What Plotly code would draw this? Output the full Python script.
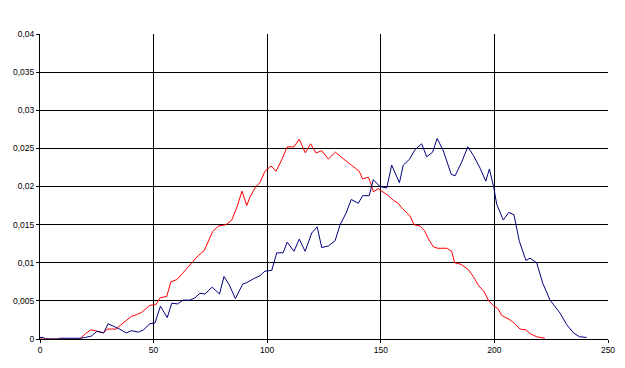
import plotly.graph_objects as go

# Blue series (navy)
blue_x = [0, 1.5, 2.5, 8, 8.5, 17.7, 20, 22.7, 25, 26.4, 28, 30, 33, 35, 38, 40.3, 43.3, 45.5,
          48.4, 50.6, 53, 56, 58, 60.5, 63, 66, 68.2, 70.4, 72.6, 75.8, 79, 81, 83.3, 86,
          89.2, 91, 94, 96.8, 99, 102, 104.2, 107, 108.8, 111.8, 114.1, 116.7, 119.6, 122,
          124, 126.9, 129.9, 132.1, 134.7, 137, 140.1, 142, 144.9, 146.7, 149.6, 152.6,
          154.8, 158.2, 159.9, 162.7, 165, 168, 170.2, 172.8, 174.8, 177.5, 181, 182.7,
          185.6, 188.3, 190.7, 193.7, 196.2, 197.8, 199.7, 201, 203.9, 206.3, 208.6, 211,
          213.9, 215.7, 218.6, 221.3, 224.5, 228.9, 231.8, 234.8, 237.4, 240.6]
blue_y = [0.0002, 0.0002, 0, 0, 0.0001, 0.0001, 0.0002, 0.0004, 0.0010, 0.0009, 0.0008, 0.0020,
          0.0016, 0.0013, 0.0008, 0.0011, 0.0009, 0.0012, 0.0020, 0.0021, 0.0043, 0.0028,
          0.0047, 0.0046, 0.0051, 0.0051, 0.0054, 0.0060, 0.0059, 0.0068, 0.0059, 0.0082,
          0.0071, 0.0053, 0.0072, 0.0074, 0.0079, 0.0083, 0.0089, 0.0090, 0.0113, 0.0113,
          0.0127, 0.0115, 0.0131, 0.0115, 0.0139, 0.0147, 0.0120, 0.0122, 0.0129, 0.0150,
          0.0165, 0.0183, 0.0178, 0.0188, 0.0188, 0.0209, 0.0200, 0.0198, 0.0228, 0.0205,
          0.0228, 0.0236, 0.0248, 0.0256, 0.0239, 0.0245, 0.0263, 0.0247, 0.0216, 0.0214,
          0.0232, 0.0252, 0.0241, 0.0224, 0.0207, 0.0223, 0.0199, 0.0177, 0.0156, 0.0166,
          0.0163, 0.0128, 0.0103, 0.0106, 0.0100, 0.0073, 0.0051, 0.0034, 0.0019, 0.0008,
          0.0003, 0.0002]

# Red series
red_x = [0, 17.6, 20, 22.4, 24.2, 26.4, 28, 29.6, 33.5, 35.3, 37.5, 40.4, 42.6, 44.8, 48.2, 51,
         52.8, 55.8, 57.6, 60.3, 64.5, 67, 69.5, 72.3, 74.6, 76, 78.5, 81.9, 84.4, 86.8, 88.9,
         91, 92.4, 95, 96.8, 99, 101.7, 103.9, 106.4, 108.8, 111.8, 114.1, 116.8, 119.1, 121.5,
         124, 126.9, 130, 132.8, 135.7, 138.6, 140.5, 142, 144.5, 145.5, 146.7, 148.9, 151,
         153.3, 155.5, 157.7, 159.2, 161.4, 162.9, 164.6, 167.3, 169.2, 171, 173.1, 175, 179,
         181.2, 182.5, 185.3, 188.5, 190.7, 192.8, 195.5, 197.5, 199.5, 201.5, 203.2, 206.9,
         209, 211.3, 213.9, 215.7, 218.6, 222.2]
red_y = [0, 0, 0.0007, 0.0012, 0.0011, 0.0009, 0.0008, 0.0013, 0.0013, 0.0018, 0.0023, 0.0030,
         0.0032, 0.0035, 0.0044, 0.0045, 0.0054, 0.0056, 0.0075, 0.0078, 0.0092, 0.0100,
         0.0109, 0.0116, 0.0131, 0.0141, 0.0148, 0.0150, 0.0156, 0.0174, 0.0194, 0.0175,
         0.0186, 0.0200, 0.0205, 0.0220, 0.0227, 0.0220, 0.0235, 0.0252, 0.0252, 0.0262,
         0.0244, 0.0256, 0.0244, 0.0247, 0.0236, 0.0245, 0.0238, 0.0231, 0.0225, 0.0220,
         0.0210, 0.0212, 0.0205, 0.0193, 0.0197, 0.0193, 0.0188, 0.0182, 0.0178, 0.0172,
         0.0165, 0.0161, 0.0150, 0.0148, 0.0142, 0.0131, 0.0121, 0.0119, 0.0119, 0.0115,
         0.0100, 0.0098, 0.0091, 0.0082, 0.0071, 0.0062, 0.0050, 0.0044, 0.0040, 0.0031,
         0.0025, 0.0020, 0.0013, 0.0012, 0.0007, 0.0003, 0.0001]

x_tickvals = [0, 50, 100, 150, 200, 250]
x_ticktext = ["0", "50", "100", "150", "200", "250"]
x_gridvals = [50, 100, 150, 200]
y_tickvals = [0, 0.005, 0.01, 0.015, 0.02, 0.025, 0.03, 0.035, 0.04]
y_ticktext = ["0", "0,005", "0,01", "0,015", "0,02", "0,025", "0,03", "0,035", "0,04"]

fig = go.Figure()
fig.add_trace(go.Scatter(x=red_x, y=red_y, mode="lines",
                         line=dict(color="#FF0000", width=1), showlegend=False))
fig.add_trace(go.Scatter(x=blue_x, y=blue_y, mode="lines",
                         line=dict(color="#000080", width=1), showlegend=False))

# page body has an 8px margin, so the figure is sized/offset to compensate
fig.update_layout(
    width=617, height=360,
    margin=dict(l=32, r=17, t=26, b=29),
    paper_bgcolor="white", plot_bgcolor="white",
    font=dict(family="Liberation Sans, Arial, sans-serif", size=8.5, color="black"),
    xaxis=dict(range=[0, 250], tickmode="array", tickvals=x_tickvals, ticktext=x_ticktext,
               automargin=False,
               showgrid=False, zeroline=False, showline=True, linecolor="black", linewidth=1,
               ticks="outside", ticklen=3, tickcolor="black",
               minor=dict(tickmode="array", tickvals=x_gridvals, showgrid=True,
                          gridcolor="black", gridwidth=1, ticks="")),
    yaxis=dict(range=[0, 0.04], tickmode="array", tickvals=y_tickvals, ticktext=y_ticktext,
               automargin=False,
               showgrid=True, gridcolor="black", gridwidth=1, zeroline=False,
               showline=True, linecolor="black", linewidth=1,
               ticks="outside", ticklen=3, tickcolor="black"),
)

fig.write_html("out.html")
